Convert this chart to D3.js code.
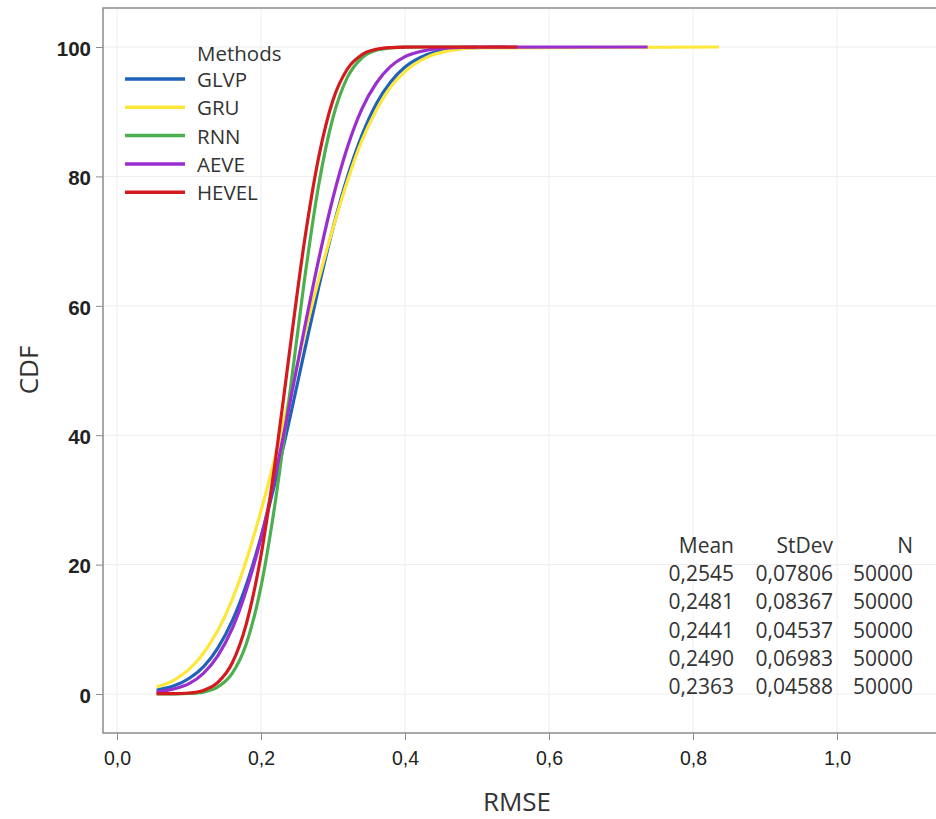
<!DOCTYPE html>
<html><head><meta charset="utf-8">
<script src="https://cdn.jsdelivr.net/npm/d3@7"></script>
<style>
html,body{margin:0;padding:0;background:#fff;}
svg{display:block;font-family:"Open Sans","Noto Sans",sans-serif;}
</style></head><body>
<svg id="chart" width="936" height="819"></svg>
<script>
// ---- data ----
const methods = ["GLVP","GRU","RNN","AEVE","HEVEL"];
const colors = ["#1F62B8","#FCE73A","#4CAF50","#9A2ECF","#D41A1F"];
const rmseGrid = [0.055,0.08,0.10,0.12,0.14,0.16,0.18,0.20,0.22,0.24,0.26,0.28,0.30,0.32,0.34,0.36,0.38,0.40,0.43,0.46,0.50];
const cdfGLVP  = [0.6,1.3,2.4,4.2,7.1,11.3,17.0,24.3,32.9,42.6,52.8,62.8,72.0,79.9,86.3,91.2,94.6,96.9,98.8,99.6,99.9];
const cdfGRU   = [1.1,2.2,3.8,6.3,9.8,14.6,20.8,28.3,36.8,46.1,55.3,64.0,72.0,79.3,85.5,90.2,93.8,96.2,98.4,99.4,99.85];
const cdfRNN   = [0.0,0.02,0.08,0.3,1.1,3.2,7.9,16.6,29.8,46.4,63.7,78.6,89.1,95.3,98.3,99.5,99.86,99.97,100,100,100];
const cdfAEVE  = [0.3,0.8,1.6,3.2,5.9,10.1,16.2,24.1,33.9,44.9,56.3,67.1,76.7,84.5,90.4,94.4,97.0,98.5,99.5,99.87,99.98];
const cdfHEVEL = [0.05,0.05,0.15,0.56,1.8,4.8,11.0,21.4,36.1,53.2,69.7,82.9,91.8,96.6,98.8,99.65,99.91,99.98,100,100,100];
const rmseEnd = [0.54,0.836,0.50,0.737,0.556];
const meanVals = ["0,2545","0,2481","0,2441","0,2490","0,2363"];
const stdevVals = ["0,07806","0,08367","0,04537","0,06983","0,04588"];
const nVals = ["50000","50000","50000","50000","50000"];
const xTicks = [0,0.2,0.4,0.6,0.8,1.0];
const yTicks = [0,20,40,60,80,100];

const cdfs = [cdfGLVP,cdfGRU,cdfRNN,cdfAEVE,cdfHEVEL];

// ---- layout ----
const svg = d3.select("#chart");
const frame = {left:103, top:8, right:945, bottom:733};
const x = d3.scaleLinear().domain([0,1]).range([117,837]);
const y = d3.scaleLinear().domain([0,100]).range([694,47]);

svg.append("rect").attr("x",frame.left).attr("y",frame.top)
  .attr("width",frame.right-frame.left).attr("height",frame.bottom-frame.top)
  .attr("fill","#fff").attr("stroke","#8c8c8c").attr("stroke-width",1.5);

// grid
svg.append("g").selectAll("line").data(xTicks).join("line")
  .attr("x1",d=>x(d)).attr("x2",d=>x(d)).attr("y1",frame.top+1).attr("y2",frame.bottom-1)
  .attr("stroke","#eeeeee").attr("stroke-width",1);
svg.append("g").selectAll("line").data(yTicks).join("line")
  .attr("x1",frame.left+1).attr("x2",frame.right).attr("y1",d=>y(d)).attr("y2",d=>y(d))
  .attr("stroke","#eeeeee").attr("stroke-width",1);

// axes
const yAxis = d3.axisLeft(y).tickValues(yTicks).tickSize(7).tickPadding(5).tickFormat(d3.format("d"));
const gy = svg.append("g").attr("transform",`translate(${frame.left},0)`).call(yAxis);
gy.select(".domain").remove();
gy.selectAll("line").attr("stroke","#8c8c8c");
gy.selectAll("text").attr("font-size",20.5).attr("font-weight",600).attr("fill","#222").attr("dy","0.4em");

const xAxis = d3.axisBottom(x).tickValues(xTicks).tickSize(7).tickPadding(11)
  .tickFormat(d=>d3.format(".1f")(d).replace(".",","));
const gx = svg.append("g").attr("transform",`translate(0,${frame.bottom})`).call(xAxis);
gx.select(".domain").remove();
gx.selectAll("line").attr("stroke","#8c8c8c");
gx.selectAll("text").attr("font-size",19.5).attr("font-weight",500).attr("fill","#222");

// axis titles
svg.append("text").attr("x",517).attr("y",811).attr("text-anchor","middle")
  .attr("font-size",26).attr("fill","#333").text("RMSE");
svg.append("text").attr("transform","translate(38,370) rotate(-90)").attr("text-anchor","middle")
  .attr("font-size",26).attr("fill","#333").text("CDF");

// curves
const line = d3.line().x(d=>x(d[0])).y(d=>y(d[1])).curve(d3.curveMonotoneX);
methods.forEach((m,i)=>{
  const pts = rmseGrid.map((r,j)=>[r,cdfs[i][j]]).filter(p=>p[0]<rmseEnd[i]);
  pts.push([rmseEnd[i],100]);
  svg.append("path").datum(pts).attr("d",line).attr("fill","none")
    .attr("stroke",colors[i]).attr("stroke-width",3.2).attr("stroke-linejoin","round");
});

// legend
const lg = svg.append("g");
lg.append("text").attr("x",197).attr("y",61).attr("font-size",20.5).attr("fill","#333").text("Methods");
methods.forEach((m,i)=>{
  const yy = 79 + i*28.3;
  lg.append("line").attr("x1",125).attr("x2",185).attr("y1",yy).attr("y2",yy)
    .attr("stroke",colors[i]).attr("stroke-width",3.5);
  lg.append("text").attr("x",197).attr("y",yy+8).attr("font-size",20.5).attr("fill","#333").text(m);
});

// stats table
const tbl = svg.append("g").attr("font-size",21).attr("fill","#333").attr("text-anchor","end");
const cols = [734,833,913];
["Mean","StDev","N"].forEach((h,k)=>tbl.append("text").attr("x",cols[k]).attr("y",553).text(h));
methods.forEach((m,i)=>{
  const yy = 581 + i*28.3;
  [meanVals[i],stdevVals[i],nVals[i]].forEach((v,k)=>tbl.append("text").attr("x",cols[k]).attr("y",yy).text(v));
});
</script>
</body></html>
